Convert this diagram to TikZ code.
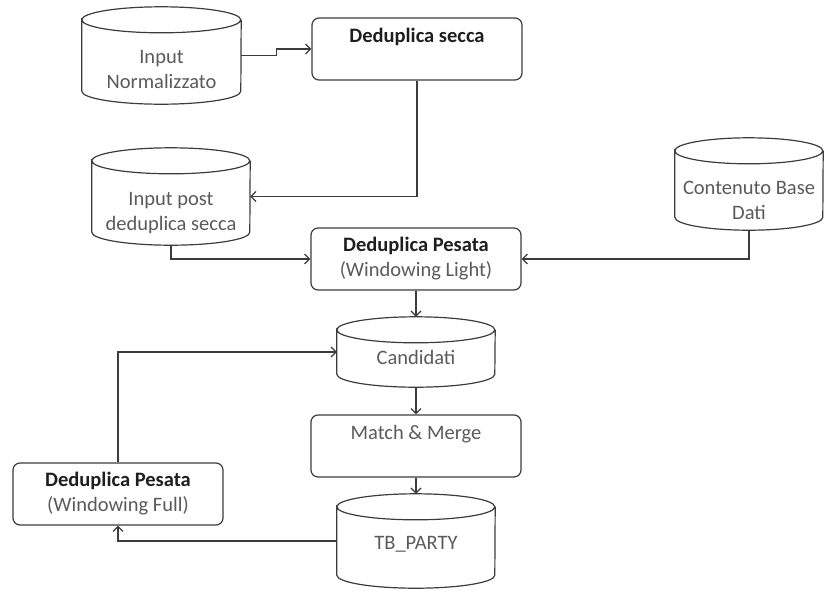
\documentclass[tikz,border=0pt]{standalone}
\usepackage{fontspec}
\setmainfont{Carlito}
\usetikzlibrary{arrows.meta}
\definecolor{lngray}{HTML}{3C3C3C}
\definecolor{txgray}{HTML}{5A5A5A}
\definecolor{hdgray}{HTML}{1E1E1E}
\tikzset{
  procbox/.style={rectangle,rounded corners=7pt,draw=lngray,line width=1.2pt,minimum width=210pt,minimum height=62pt,align=center,font=\fontsize{20.5}{25}\selectfont,text=txgray},
  toptext/.style={text depth=27pt},
  dbline/.style={draw=lngray,line width=1.2pt},
  dbnode/.style={rectangle,inner sep=0pt,minimum width=#1,align=center,font=\fontsize{20.5}{25}\selectfont,text=txgray,
    append after command={\pgfextra{%
      \draw[dbline] ([yshift=-13pt]\tikzlastnode.north west) arc[start angle=180,end angle=-180,x radius={#1/2},y radius=13pt]
        -- ([yshift=13pt]\tikzlastnode.south west) arc[start angle=180,end angle=360,x radius={#1/2},y radius=13pt]
        -- ([yshift=-13pt]\tikzlastnode.north east);}}},
  dbnode/.default=158pt,
  dbtext/.style={text height=#1},
  flowedge/.style={-{Straight Barb[length=5pt,width=10pt]},line width=1.2pt,lngray},
}
\newcommand{\hd}[1]{{\bfseries\color{hdgray}#1}}

\begin{document}
\begin{tikzpicture}[x=1pt,y=-1pt]
  \useasboundingbox (0,0) rectangle (827,590);
  \node[dbnode=159pt,minimum height=97pt,dbtext=67pt] (inorm) at (161.5,55.5) {Input\\Normalizzato};
  \node[procbox,toptext] (dsecca) at (417,49) {\hd{Deduplica secca}};
  \node[dbnode,minimum height=97pt,dbtext=71pt] (ipost) at (171,196.5) {Input post\\deduplica secca};
  \node[dbnode=148pt,minimum height=92pt,dbtext=72pt] (cbd) at (749,184) {Contenuto Base\\Dati};
  \node[procbox] (dpl) at (416,259) {\hd{Deduplica Pesata}\\(Windowing Light)};
  \node[dbnode,minimum height=70pt,dbtext=25pt] (cand) at (416,352) {Candidati};
  \node[procbox,toptext] (mm) at (416,446) {Match \& Merge};
  \node[dbnode,minimum height=94pt,dbtext=19pt] (tb) at (416,541) {TB\_PARTY};
  \node[procbox] (dpf) at (118,494) {\hd{Deduplica Pesata}\\(Windowing Full)};
  \draw[flowedge] (inorm.east) -- ++(35,0) |- (dsecca.west);
  \draw[flowedge] (dsecca.south) |- (ipost.east);
  \draw[flowedge] (ipost.south) |- (dpl.west);
  \draw[flowedge] (cbd.south) |- (dpl.east);
  \draw[flowedge] (dpl.south) -- (cand.north);
  \draw[flowedge] (cand.south) -- (mm.north);
  \draw[flowedge] (mm.south) -- (tb.north);
  \draw[flowedge] (tb.west) -| (dpf.south);
  \draw[flowedge] (dpf.north) |- (cand.west);
\end{tikzpicture}
\end{document}
